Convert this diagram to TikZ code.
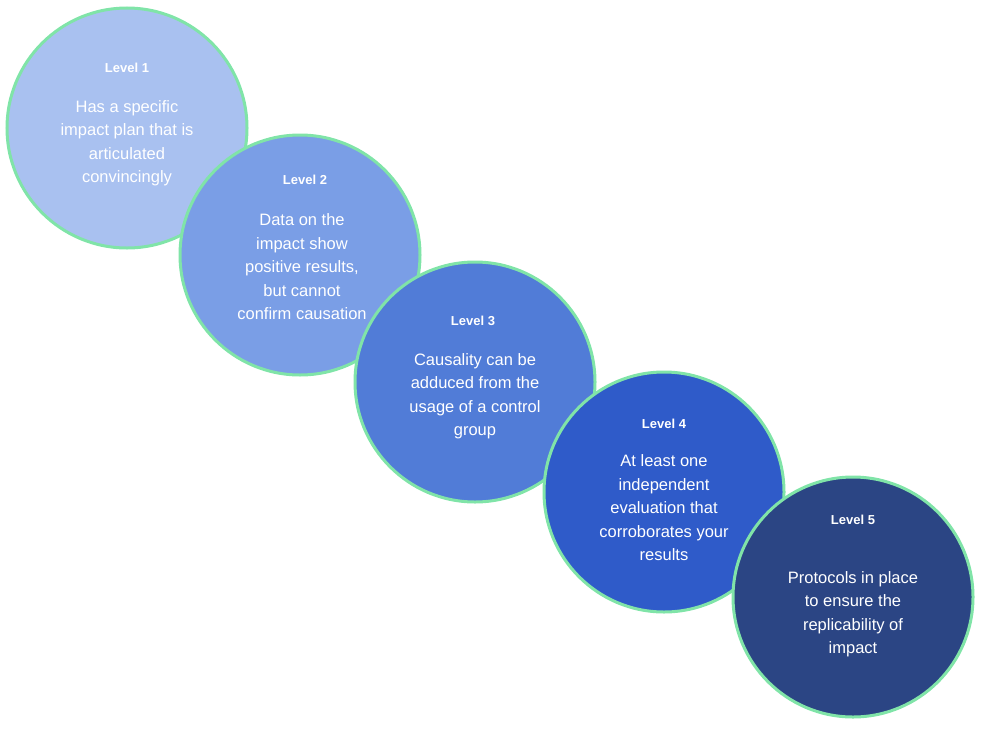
\documentclass[tikz,border=0pt]{standalone}
\usepackage{fontspec}
\setmainfont{Liberation Sans}
\usetikzlibrary{positioning}
\definecolor{lvlA}{HTML}{A9C1F0}
\definecolor{lvlB}{HTML}{7A9EE6}
\definecolor{lvlC}{HTML}{517CD7}
\definecolor{lvlD}{HTML}{2F5BC9}
\definecolor{lvlE}{HTML}{2B4584}
\definecolor{rim}{HTML}{80E4A8}
\begin{document}
\begin{tikzpicture}[x=1pt, y=-1pt,
  level/.style = {draw=rim, line width=3pt, circle, minimum size=240pt, inner sep=0pt},
  head/.style = {text=white, font=\fontsize{13}{15}\selectfont\bfseries},
  body/.style = {text=white, align=center, font=\fontsize{16.5}{23.5}\selectfont}]
\useasboundingbox (0,0) rectangle (982,728);

\node[level, fill=lvlA] (1) at (127,128) {};
\node[head] (h1) at (127,68) {Level 1};
\node[body] (b1) at (127,143) {Has a specific\\impact plan that is\\articulated\\convincingly};

\node[level, fill=lvlB] (2) at (300,255) {};
\node[head] (h2) at (305,180) {Level 2};
\node[body] (b2) at (302,267) {Data on the\\impact show\\positive results,\\but cannot\\confirm causation};

\node[level, fill=lvlC] (3) at (475,382) {};
\node[head] (h3) at (473,321) {Level 3};
\node[body] (b3) at (475,396) {Causality can be\\adduced from the\\usage of a control\\group};

\node[level, fill=lvlD] (4) at (664,492) {};
\node[head] (h4) at (664,424) {Level 4};
\node[body] (b4) at (664,508) {At least one\\independent\\evaluation that\\corroborates your\\results};

\node[level, fill=lvlE] (5) at (853,597) {};
\node[head] (h5) at (853,520) {Level 5};
\node[body] (b5) at (853,614) {Protocols in place\\to ensure the\\replicability of\\impact};
\end{tikzpicture}
\end{document}
